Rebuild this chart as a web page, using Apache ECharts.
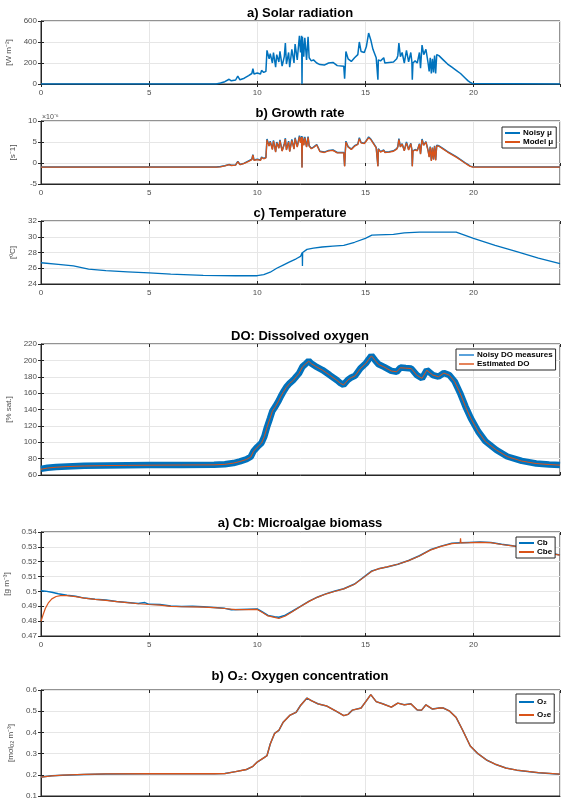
<!DOCTYPE html>
<html>
<head>
<meta charset="utf-8">
<script src="https://cdn.jsdelivr.net/npm/echarts@6/dist/echarts.min.js"></script>
<style>
  html, body { margin: 0; padding: 0; background: #fff; }
  #chart { width: 568px; height: 800px; }
</style>
</head>
<body>
<div id="chart"></div>
<script>
// time axis (hours) shared by solar radiation and growth rate
const sunT = [
  0, 8.1, 8.3, 8.5, 8.7, 8.8, 9.0, 9.1, 9.2, 9.4,
  9.6, 9.75, 9.8, 9.85, 10.0, 10.15, 10.2, 10.3, 10.4, 10.45,
  10.55, 10.6, 10.7, 10.75, 10.85, 10.9, 11.0, 11.05, 11.15, 11.25,
  11.3, 11.35, 11.45, 11.5, 11.6, 11.7, 11.75, 11.85, 11.95, 12.0,
  12.05, 12.07, 12.09, 12.15, 12.2, 12.28, 12.35, 12.4, 12.5, 12.6,
  12.75, 12.9, 13.1, 13.3, 13.5, 13.7, 14.0, 14.04, 14.07, 14.1,
  14.2, 14.35, 14.5, 14.65, 14.72, 14.8, 14.95, 15.05, 15.15, 15.25,
  15.35, 15.5, 15.56, 15.58, 15.6, 15.7, 15.85, 15.9, 16.1, 16.3,
  16.45, 16.5, 16.55, 16.62, 16.7, 16.8, 16.9, 17.0, 17.1, 17.15,
  17.17, 17.2, 17.3, 17.4, 17.5, 17.55, 17.62, 17.7, 17.8, 17.9,
  17.95, 18.0, 18.05, 18.1, 18.15, 18.2, 18.25, 18.3, 18.4, 18.6,
  18.8, 19.0, 19.2, 19.4, 19.6, 19.75, 19.85, 19.95, 20.0, 24
]
// a) solar radiation [W m-2]
const solar = [
  0, 0, 10, 22, 45, 30, 38, 75, 40, 55,
  80, 100, 145, 95, 105, 95, 130, 110, 120, 320,
  240, 290, 200, 300, 160, 280, 210, 310, 170, 260,
  390, 190, 300, 160, 330, 200, 380, 230, 460, 300,
  460, 0, 450, 260, 440, 230, 450, 250, 220, 230,
  200, 185, 180, 200, 205, 175, 170, 50, 170, 310,
  240, 215, 250, 280, 400, 310, 300, 360, 485, 420,
  330, 250, 250, 40, 230, 220, 250, 200, 205, 210,
  240, 270, 390, 260, 300, 200, 320, 210, 300, 210,
  40, 200, 220, 200, 300, 150, 370, 280, 330, 200,
  120, 250, 100, 240, 110, 270, 100, 280, 270, 230,
  190, 160, 130, 100, 60, 30, 15, 5, 0, 0
]
// b) growth rate [x1e-6 s-1]
const muNoisy = [
  -0.95, -0.95, -0.85, -0.65, -0.35, -0.55, -0.45, 0.4, -0.35, -0.05,
  0.5, 0.9, 2.0, 0.7, 0.9, 0.7, 1.4, 1.1, 1.3, 5.7,
  4.1, 5.2, 3.3, 5.4, 2.7, 5.0, 3.6, 5.5, 2.9, 4.6,
  5.9, 3.2, 5.2, 2.8, 5.6, 3.4, 6.0, 3.9, 6.5, 4.9,
  6.4, -1.0, 6.3, 4.3, 6.2, 3.9, 6.3, 4.1, 3.5, 3.8,
  4.4, 2.8, 2.6, 3.0, 3.1, 2.5, 2.5, -0.7, 2.5, 5.2,
  3.9, 3.3, 4.1, 4.5, 6.0, 4.9, 4.7, 5.4, 6.2, 5.7,
  4.9, 3.7, 3.7, -0.7, 3.4, 2.7, 3.1, 2.6, 2.7, 2.9,
  3.4, 3.9, 5.8, 3.9, 4.6, 3.0, 5.0, 3.2, 4.7, 3.2,
  -0.7, 2.9, 3.2, 3.0, 4.6, 2.2, 5.7, 4.3, 5.1, 3.0,
  1.5, 3.9, 0.6, 3.7, 0.9, 4.1, 0.7, 4.2, 4.1, 3.4,
  2.7, 2.1, 1.5, 0.8, 0.1, -0.4, -0.75, -0.9, -0.95, -0.95
]
const muModel = [
  -1, -1, -0.9, -0.7, -0.4, -0.6, -0.5, 0.3, -0.4, -0.1,
  0.4, 0.8, 1.9, 0.6, 0.8, 0.6, 1.3, 1.0, 1.2, 5.5,
  4.0, 5.0, 3.2, 5.2, 2.6, 4.8, 3.5, 5.3, 2.8, 4.4,
  5.7, 3.1, 5.0, 2.7, 5.4, 3.3, 5.8, 3.8, 6.3, 4.8,
  6.2, -1.1, 6.1, 4.2, 6.0, 3.8, 6.1, 4.0, 3.4, 3.7,
  4.3, 2.7, 2.5, 2.9, 3.0, 2.4, 2.4, -0.8, 2.4, 5.0,
  3.8, 3.2, 4.0, 4.4, 5.8, 4.8, 4.6, 5.3, 6.0, 5.6,
  4.8, 3.6, 3.6, -0.8, 3.3, 2.6, 3.0, 2.5, 2.6, 2.8,
  3.3, 3.8, 5.6, 3.8, 4.5, 2.9, 4.8, 3.1, 4.6, 3.1,
  -0.8, 2.8, 3.1, 2.9, 4.5, 2.1, 5.5, 4.2, 5.0, 2.9,
  1.4, 3.8, 0.5, 3.6, 0.8, 4.0, 0.6, 4.1, 4.0, 3.3,
  2.6, 2.0, 1.4, 0.7, 0.0, -0.5, -0.8, -0.95, -1, -1
]

// c) temperature [ºC]
const tempT = [
  0, 0.8, 1.5, 2.2, 3, 4, 5, 6, 7.5, 9,
  10, 10.3, 10.6, 10.9, 11.2, 11.5, 11.8, 12.0, 12.08, 12.09,
  12.1, 12.3, 12.6, 13, 13.5, 14, 14.5, 15.0, 15.3, 15.6,
  16.3, 16.8, 17.5, 19.2, 20, 21, 22, 23, 24
]
const temp = [
  26.7, 26.5, 26.3, 25.9, 25.7, 25.55, 25.4, 25.25, 25.1, 25.05,
  25.05, 25.2, 25.5, 26.0, 26.4, 26.8, 27.2, 27.5, 28.0, 26.3,
  28.0, 28.4, 28.55, 28.7, 28.8, 28.9, 29.3, 29.8, 30.2, 30.25,
  30.3, 30.5, 30.6, 30.6, 29.8, 28.9, 28.1, 27.3, 26.6
]

// DO: dissolved oxygen [% sat.]
const doT = [
  0, 0.3, 0.7, 1.2, 2, 3, 4, 5, 6.5, 8,
  8.5, 8.9, 9.2, 9.5, 9.7, 9.83, 10.0, 10.2, 10.33, 10.45,
  10.59, 10.7, 10.84, 11.0, 11.09, 11.2, 11.34, 11.5, 11.68, 11.8,
  11.93, 12.09, 12.25, 12.38, 12.5, 12.68, 13.02, 13.35, 13.69, 13.85,
  13.99, 14.19, 14.35, 14.52, 14.77, 15.03, 15.15, 15.28, 15.45, 15.61,
  15.86, 16.2, 16.45, 16.62, 16.87, 17.12, 17.37, 17.62, 17.84, 18.12,
  18.38, 18.63, 18.88, 19.13, 19.38, 19.63, 19.88, 20.22, 20.55, 21.06,
  21.56, 22.23, 22.9, 23.5, 24
]
const doMeas = [
  67.5, 68.8, 69.8, 70.5, 71.2, 71.6, 71.9, 72.1, 72.3, 72.5,
  73.2, 74.6, 76.6, 79.2, 82.3, 89.2, 94.2, 99.3, 107.2, 118.3,
  129.2, 138.1, 143.8, 151.2, 156.1, 161.3, 167.2, 172.1, 176.3, 180.2,
  184.1, 192.2, 196.1, 199.3, 196.2, 193.1, 188.2, 182.1, 175.7, 172.2,
  170.2, 176.1, 179.2, 181.1, 190.2, 196.6, 201.2, 205.8, 200.1, 195.2,
  192.1, 187.2, 186.1, 191.2, 190.6, 190.1, 182.2, 178.1, 188.2, 182.1,
  180.2, 184.6, 182.1, 174.2, 160.1, 143.6, 129.2, 113.1, 101.2, 90.6,
  82.6, 77.2, 74.1, 72.9, 72.1
]
const doEst = [
  67, 68.5, 69.5, 70.3, 71, 71.5, 71.8, 72, 72.2, 72.4,
  73, 74.5, 76.5, 79, 82, 89, 94, 99, 107, 118,
  129, 138, 143.5, 151, 156, 161, 167, 172, 176, 180,
  184, 192, 196, 199, 196, 193, 188, 182, 175.5, 172,
  170, 176, 179, 181, 190, 196.5, 201, 205.5, 200, 195,
  192, 187, 186, 191, 190.5, 190, 182, 178, 188, 182,
  180, 184.5, 182, 174, 160, 143.5, 129, 113, 101, 90.5,
  82.5, 77, 74, 72.8, 72
]

// a) Cb: microalgae biomass [g m-3]
const cbT = [
  0, 0.2, 0.5, 0.8, 1.2, 1.6, 2.0, 2.5, 3.0, 3.5,
  4.0, 4.5, 4.8, 5.0, 5.5, 6.0, 6.5, 7.0, 7.5, 8.0,
  8.5, 8.8, 9.2, 9.6, 10.0, 10.2, 10.5, 10.8, 11.0, 11.3,
  11.6, 12.0, 12.4, 12.8, 13.2, 13.6, 14.0, 14.5, 15.0, 15.3,
  15.6, 16.0, 16.5, 17.0, 17.5, 18.0, 18.5, 19.0, 19.4, 19.8,
  20.3, 20.8, 21.3, 21.8, 22.3, 22.8, 23.4, 24
]
const cb = [
  0.5005, 0.5002, 0.4995, 0.4985, 0.4975, 0.4968, 0.4955, 0.4948, 0.4943, 0.4932,
  0.4925, 0.4918, 0.4925, 0.4913, 0.4912, 0.4902, 0.4898, 0.49, 0.4897, 0.4892,
  0.4886, 0.4876, 0.4878, 0.488, 0.4882, 0.4865, 0.4838, 0.483, 0.4826, 0.484,
  0.4865, 0.49, 0.4935, 0.4963, 0.4985, 0.5003, 0.5018, 0.505, 0.5105, 0.5138,
  0.5152, 0.5165, 0.5183, 0.5208, 0.524, 0.528, 0.5305, 0.5325, 0.5328, 0.533,
  0.5332, 0.533, 0.5318, 0.5308, 0.5295, 0.5278, 0.5262, 0.5245
]
const cbeT = [
  0, 0.1, 0.2, 0.35, 0.5, 0.7, 0.9, 1.2, 1.6, 2.0,
  2.5, 3.0, 3.5, 4.0, 4.5, 5.0, 5.5, 6.0, 6.5, 7.0,
  7.5, 8.0, 8.5, 9.0, 9.5, 10.0, 10.2, 10.5, 10.8, 11.0,
  11.3, 11.6, 12.0, 12.4, 12.8, 13.2, 13.6, 14.0, 14.5, 15.0,
  15.3, 15.6, 16.0, 16.5, 17.0, 17.5, 18.0, 18.5, 19.0, 19.38,
  19.4, 19.42, 19.8, 20.3, 20.8, 21.3, 21.8, 22.3, 22.8, 23.4,
  24
]
const cbe = [
  0.4798, 0.4845, 0.4885, 0.4925, 0.495, 0.4966, 0.4972, 0.4972, 0.4965, 0.4955,
  0.4947, 0.494, 0.4932, 0.4924, 0.4917, 0.4912, 0.4908, 0.49, 0.4897, 0.4896,
  0.4895, 0.4891, 0.4885, 0.4878, 0.4877, 0.4879, 0.4862, 0.4835, 0.4825, 0.4818,
  0.4835, 0.4862, 0.4898, 0.4933, 0.4962, 0.4984, 0.5001, 0.5017, 0.5048, 0.5103,
  0.5136, 0.5152, 0.5165, 0.5183, 0.5207, 0.5238, 0.5278, 0.5303, 0.5322, 0.5326,
  0.5358, 0.5327, 0.5328, 0.533, 0.5328, 0.5316, 0.5306, 0.5294, 0.5277, 0.526,
  0.5244
]

// b) O2: oxygen concentration [mol_O2 m-3]
const o2T = [
  0, 0.5, 1, 2, 3, 5, 8, 8.5, 9, 9.5,
  9.8, 10, 10.3, 10.45, 10.6, 10.8, 11.0, 11.2, 11.5, 11.8,
  12.0, 12.3, 12.5, 12.8, 13.2, 13.6, 14.0, 14.2, 14.4, 14.8,
  15.0, 15.25, 15.5, 15.8, 16.2, 16.5, 16.8, 17.1, 17.4, 17.6,
  17.8, 18.1, 18.4, 18.6, 18.9, 19.2, 19.5, 19.85, 20.2, 20.6,
  21.0, 21.5, 22.0, 23.0, 24
]
const o2 = [
  0.19, 0.195, 0.198, 0.202, 0.204, 0.205, 0.205, 0.206, 0.215, 0.225,
  0.24, 0.26, 0.28, 0.29, 0.345, 0.395, 0.41, 0.448, 0.48, 0.495,
  0.527, 0.562, 0.55, 0.535, 0.525, 0.503, 0.479, 0.485, 0.505, 0.515,
  0.543, 0.578, 0.545, 0.535, 0.519, 0.538, 0.53, 0.535, 0.506, 0.505,
  0.53, 0.51, 0.515, 0.515, 0.5, 0.47, 0.41, 0.336, 0.3, 0.27,
  0.25, 0.232, 0.222, 0.21, 0.203
]
const o2e = [
  0.189, 0.195, 0.198, 0.202, 0.204, 0.205, 0.205, 0.206, 0.215, 0.225,
  0.24, 0.26, 0.28, 0.29, 0.345, 0.395, 0.41, 0.448, 0.48, 0.495,
  0.527, 0.562, 0.55, 0.535, 0.525, 0.503, 0.479, 0.485, 0.505, 0.515,
  0.543, 0.578, 0.545, 0.535, 0.519, 0.538, 0.53, 0.535, 0.506, 0.505,
  0.53, 0.51, 0.515, 0.515, 0.5, 0.47, 0.41, 0.336, 0.3, 0.27,
  0.25, 0.232, 0.222, 0.21, 0.203
]

const xTicks = { min: 0, max: 24, interval: 5 }

const BLUE = '#0072BD'
const ORANGE = '#D95319'
const FONT = '"Liberation Sans", Arial, Helvetica, sans-serif'
const LABEL_COLOR = '#4d4d4d'
const AXIS_COLOR = '#262626'

function pairs(t, v) {
  return t.map((x, i) => [x, v[i]])
}

// plot boxes, top and height in px
const boxes = [
  { top: 21, height: 63 },
  { top: 121, height: 63 },
  { top: 221, height: 63 },
  { top: 344, height: 131 },
  { top: 532, height: 104 },
  { top: 690, height: 106 },
]

const grids = boxes.map((b) => ({
  left: 41,
  right: 8,
  top: b.top,
  height: b.height,
  containLabel: false,
  outerBoundsMode: 'none',
  show: true,
  borderColor: AXIS_COLOR,
  borderWidth: 1,
  backgroundColor: '#fff',
}))

const yDefs = [
  { min: 0, max: 600, interval: 200, name: '[W m\u207B\u00B2]', gap: 22 },
  { min: -5, max: 10, interval: 5, name: '[s\u207B1]', gap: 20 },
  { min: 24, max: 32, interval: 2, name: '[\u00BAC]', gap: 20 },
  { min: 60, max: 220, interval: 20, name: '[% sat.]', gap: 21 },
  { min: 0.47, max: 0.54, interval: 0.01, name: '[g m\u207B\u00B3]', gap: 27 },
  { min: 0.1, max: 0.6, interval: 0.1, name: '[mol\u2092\u2082 m\u207B\u00B3]', gap: 24 },
]

const tick = { show: true, inside: true, length: 3, lineStyle: { color: AXIS_COLOR } }

// bottom axes (with labels) then top axes (ticks only, MATLAB box style)
const xAxes = boxes
  .map((b, i) => ({
    type: 'value',
    gridIndex: i,
    min: xTicks.min,
    max: xTicks.max,
    interval: xTicks.interval,
    axisLine: { show: true, onZero: false, lineStyle: { color: AXIS_COLOR } },
    axisTick: tick,
    axisLabel: {
      show: i !== 3,
      fontSize: 8,
      color: LABEL_COLOR,
      fontFamily: FONT,
      margin: 5,
      showMaxLabel: false,
    },
    splitLine: { show: true, lineStyle: { color: '#e6e6e6', width: 1 } },
  }))
  .concat(
    boxes.map((b, i) => ({
      type: 'value',
      gridIndex: i,
      position: 'top',
      min: xTicks.min,
      max: xTicks.max,
      interval: xTicks.interval,
      axisLine: { show: false },
      axisTick: tick,
      axisLabel: { show: false },
      splitLine: { show: false },
    }))
  )

const yAxes = yDefs
  .map((d, i) => ({
    type: 'value',
    gridIndex: i,
    min: d.min,
    max: d.max,
    interval: d.interval,
    name: d.name,
    nameLocation: 'middle',
    nameRotate: 90,
    nameGap: d.gap,
    nameTextStyle: { fontSize: 8, color: LABEL_COLOR, fontFamily: FONT },
    axisLine: { show: true, onZero: false, lineStyle: { color: AXIS_COLOR } },
    axisTick: tick,
    axisLabel: { fontSize: 8, color: LABEL_COLOR, fontFamily: FONT, margin: 4 },
    splitLine: { show: true, lineStyle: { color: '#e6e6e6', width: 1 } },
  }))
  .concat(
    yDefs.map((d, i) => ({
      type: 'value',
      gridIndex: i,
      position: 'right',
      min: d.min,
      max: d.max,
      interval: d.interval,
      axisLine: { show: false },
      axisTick: tick,
      axisLabel: { show: false },
      splitLine: { show: false },
    }))
  )

function line(name, idx, t, v, color, width, z) {
  return {
    name: name,
    type: 'line',
    xAxisIndex: idx,
    yAxisIndex: idx,
    data: pairs(t, v),
    showSymbol: false,
    symbol: 'none',
    lineStyle: { color: color, width: width },
    itemStyle: { color: color },
    z: z || 2,
    animation: false,
  }
}

const legendBase = {
  orient: 'vertical',
  backgroundColor: '#fff',
  borderColor: AXIS_COLOR,
  borderWidth: 1,
  borderRadius: 0,
  padding: [2, 3],
  itemGap: 1,
  itemWidth: 15,
  itemHeight: 2,
  icon: 'rect',
  selectedMode: false,
  z: 10,
  textStyle: { fontSize: 8, fontWeight: 'bold', color: '#000', fontFamily: FONT, padding: [0, 0, 0, -2] },
}

const titles = [
  ['a) Solar radiation', 13],
  ['b) Growth rate', 113],
  ['c) Temperature', 213],
  ['DO: Dissolved oxygen', 336],
  ['a) Cb: Microalgae biomass', 523],
  ['b) O\u2082: Oxygen concentration', 676],
]

const chart = echarts.init(document.getElementById('chart'), null, { renderer: 'canvas' })

chart.setOption({
  animation: false,
  backgroundColor: '#fff',
  grid: grids,
  xAxis: xAxes,
  yAxis: yAxes,
  legend: [
    Object.assign({}, legendBase, { left: 502, top: 127, data: ['Noisy \u03BC', 'Model \u03BC'] }),
    Object.assign({}, legendBase, {
      left: 456,
      top: 349,
      data: [
        { name: 'Noisy DO measures', itemStyle: { color: '#5aa2db' } },
        { name: 'Estimated DO', itemStyle: { color: '#e5835a' } },
      ],
    }),
    Object.assign({}, legendBase, { left: 516, top: 537, data: ['Cb', 'Cbe'] }),
    Object.assign({}, legendBase, { left: 516, top: 694, itemGap: 5, padding: [4, 3], data: ['O\u2082', 'O\u2082e'] }),
  ],
  graphic: titles
    .map((t) => ({
      type: 'text',
      x: 300,
      y: t[1],
      style: {
        text: t[0],
        fontSize: 13,
        fontWeight: 'bold',
        fontFamily: FONT,
        fill: '#000',
        textAlign: 'center',
        textVerticalAlign: 'middle',
      },
    }))
    .concat([
      {
        type: 'text',
        x: 42,
        y: 117,
        style: {
          text: '\u00D710\u207B\u2076',
          fontSize: 7,
          fontFamily: FONT,
          fill: LABEL_COLOR,
          textVerticalAlign: 'middle',
        },
      },
    ]),
  series: [
    line('Solar radiation', 0, sunT, solar, BLUE, 1.5),
    line('Noisy \u03BC', 1, sunT, muNoisy, BLUE, 1.5),
    line('Model \u03BC', 1, sunT, muModel, ORANGE, 1.3, 3),
    line('Temperature', 2, tempT, temp, BLUE, 1.3),
    line('Noisy DO measures', 3, doT, doMeas, BLUE, 6.5),
    line('Estimated DO', 3, doT, doEst, ORANGE, 1, 3),
    line('Cb', 4, cbT, cb, BLUE, 1.5),
    line('Cbe', 4, cbeT, cbe, ORANGE, 1.2, 3),
    line('O\u2082', 5, o2T, o2, BLUE, 1.5),
    line('O\u2082e', 5, o2T, o2e, ORANGE, 1.3, 3),
  ],
})

window.addEventListener('resize', () => {
  chart.resize()
})
</script>
</body>
</html>
